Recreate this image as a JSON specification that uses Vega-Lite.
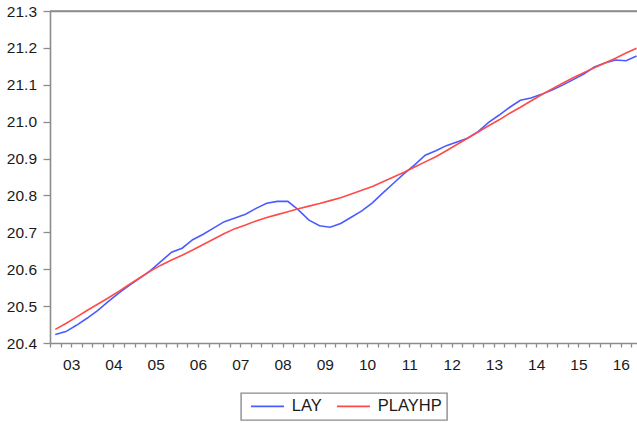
{
  "$schema": "https://vega.github.io/schema/vega-lite/v6.json",
  "width": 587,
  "height": 332,
  "autosize": {"type": "none"},
  "padding": {"left": 50, "top": 11, "right": 0, "bottom": 80},
  "background": "white",
  "config": {
    "view": {"stroke": null},
    "font": "Liberation Sans",
    "axis": {
      "labelFont": "Liberation Sans",
      "labelFontSize": 15.5,
      "labelColor": "#1a1a1a",
      "domainColor": "#8c8c8c",
      "domainWidth": 1.6,
      "tickColor": "#8c8c8c",
      "tickWidth": 1.3,
      "grid": false,
      "title": null
    },
    "legend": {
      "strokeWidth": 1.4
    }
  },
  "resolve": {"scale": {"x": "independent", "y": "independent"}, "axis": {"x": "independent", "y": "independent"}},
  "layer": [
    {
      "data": {
        "values": [
          {"t": 2003.125, "LAY": 20.423, "PLAYHP": 20.437},
          {"t": 2003.375, "LAY": 20.431, "PLAYHP": 20.453},
          {"t": 2003.625, "LAY": 20.448, "PLAYHP": 20.470},
          {"t": 2003.875, "LAY": 20.467, "PLAYHP": 20.488},
          {"t": 2004.125, "LAY": 20.488, "PLAYHP": 20.505},
          {"t": 2004.375, "LAY": 20.512, "PLAYHP": 20.522},
          {"t": 2004.625, "LAY": 20.535, "PLAYHP": 20.540},
          {"t": 2004.875, "LAY": 20.556, "PLAYHP": 20.559},
          {"t": 2005.125, "LAY": 20.576, "PLAYHP": 20.577},
          {"t": 2005.375, "LAY": 20.596, "PLAYHP": 20.595},
          {"t": 2005.625, "LAY": 20.621, "PLAYHP": 20.611},
          {"t": 2005.875, "LAY": 20.646, "PLAYHP": 20.625},
          {"t": 2006.125, "LAY": 20.657, "PLAYHP": 20.638},
          {"t": 2006.375, "LAY": 20.680, "PLAYHP": 20.652},
          {"t": 2006.625, "LAY": 20.695, "PLAYHP": 20.667},
          {"t": 2006.875, "LAY": 20.712, "PLAYHP": 20.682},
          {"t": 2007.125, "LAY": 20.729, "PLAYHP": 20.697},
          {"t": 2007.375, "LAY": 20.739, "PLAYHP": 20.710},
          {"t": 2007.625, "LAY": 20.749, "PLAYHP": 20.720},
          {"t": 2007.875, "LAY": 20.765, "PLAYHP": 20.731},
          {"t": 2008.125, "LAY": 20.779, "PLAYHP": 20.740},
          {"t": 2008.375, "LAY": 20.784, "PLAYHP": 20.748},
          {"t": 2008.625, "LAY": 20.784, "PLAYHP": 20.756},
          {"t": 2008.875, "LAY": 20.761, "PLAYHP": 20.764},
          {"t": 2009.125, "LAY": 20.733, "PLAYHP": 20.771},
          {"t": 2009.375, "LAY": 20.718, "PLAYHP": 20.778},
          {"t": 2009.625, "LAY": 20.714, "PLAYHP": 20.786},
          {"t": 2009.875, "LAY": 20.724, "PLAYHP": 20.794},
          {"t": 2010.125, "LAY": 20.741, "PLAYHP": 20.804},
          {"t": 2010.375, "LAY": 20.758, "PLAYHP": 20.814},
          {"t": 2010.625, "LAY": 20.780, "PLAYHP": 20.824},
          {"t": 2010.875, "LAY": 20.807, "PLAYHP": 20.837},
          {"t": 2011.125, "LAY": 20.833, "PLAYHP": 20.850},
          {"t": 2011.375, "LAY": 20.859, "PLAYHP": 20.863},
          {"t": 2011.625, "LAY": 20.883, "PLAYHP": 20.877},
          {"t": 2011.875, "LAY": 20.909, "PLAYHP": 20.891},
          {"t": 2012.125, "LAY": 20.921, "PLAYHP": 20.905},
          {"t": 2012.375, "LAY": 20.935, "PLAYHP": 20.921},
          {"t": 2012.625, "LAY": 20.945, "PLAYHP": 20.938},
          {"t": 2012.875, "LAY": 20.955, "PLAYHP": 20.955},
          {"t": 2013.125, "LAY": 20.973, "PLAYHP": 20.972},
          {"t": 2013.375, "LAY": 20.998, "PLAYHP": 20.989},
          {"t": 2013.625, "LAY": 21.018, "PLAYHP": 21.005},
          {"t": 2013.875, "LAY": 21.039, "PLAYHP": 21.023},
          {"t": 2014.125, "LAY": 21.058, "PLAYHP": 21.039},
          {"t": 2014.375, "LAY": 21.064, "PLAYHP": 21.056},
          {"t": 2014.625, "LAY": 21.074, "PLAYHP": 21.073},
          {"t": 2014.875, "LAY": 21.086, "PLAYHP": 21.089},
          {"t": 2015.125, "LAY": 21.099, "PLAYHP": 21.104},
          {"t": 2015.375, "LAY": 21.114, "PLAYHP": 21.119},
          {"t": 2015.625, "LAY": 21.129, "PLAYHP": 21.133},
          {"t": 2015.875, "LAY": 21.148, "PLAYHP": 21.146},
          {"t": 2016.125, "LAY": 21.159, "PLAYHP": 21.159},
          {"t": 2016.375, "LAY": 21.167, "PLAYHP": 21.172},
          {"t": 2016.625, "LAY": 21.165, "PLAYHP": 21.186},
          {"t": 2016.875, "LAY": 21.178, "PLAYHP": 21.199}
        ]
      },
      "transform": [{"fold": ["LAY", "PLAYHP"], "as": ["series", "value"]}],
      "mark": {"type": "line", "strokeWidth": 1.6, "clip": true},
      "encoding": {
        "x": {
          "field": "t",
          "type": "quantitative",
          "scale": {"domain": [2003, 2016.884], "nice": false, "zero": false},
          "axis": {
            "values": [2003, 2003.25, 2003.5, 2003.75, 2004, 2004.25, 2004.5, 2004.75, 2005, 2005.25, 2005.5, 2005.75, 2006, 2006.25, 2006.5, 2006.75, 2007, 2007.25, 2007.5, 2007.75, 2008, 2008.25, 2008.5, 2008.75, 2009, 2009.25, 2009.5, 2009.75, 2010, 2010.25, 2010.5, 2010.75, 2011, 2011.25, 2011.5, 2011.75, 2012, 2012.25, 2012.5, 2012.75, 2013, 2013.25, 2013.5, 2013.75, 2014, 2014.25, 2014.5, 2014.75, 2015, 2015.25, 2015.5, 2015.75, 2016, 2016.25, 2016.5, 2016.75],
            "labelExpr": "datum.value % 1 == 0.5 ? slice(toString(floor(datum.value)), 2) : ''",
            "labelFlush": false,
            "labelOverlap": false,
            "tickSize": 4,
            "labelPadding": 10,
            "title": null,
            "encode": {"ticks": {"update": {"y2": {"signal": "datum.value % 1 == 0 ? 8.5 : 4"}}}}
          }
        },
        "y": {
          "field": "value",
          "type": "quantitative",
          "scale": {"domain": [20.4, 21.3], "nice": false, "zero": false},
          "axis": {
            "values": [20.4, 20.5, 20.6, 20.7, 20.8, 20.9, 21.0, 21.1, 21.2, 21.3],
            "format": ".1f",
            "tickSize": 7,
            "labelPadding": 6.5,
            "labelOverlap": false,
            "labelFlush": false,
            "title": null
          }
        },
        "color": {
          "field": "series",
          "type": "nominal",
          "scale": {"domain": ["LAY", "PLAYHP"], "range": ["#4a5cff", "#ff4a4a"]},
          "legend": {
            "title": null,
            "orient": "none",
            "legendX": 191,
            "legendY": 382,
            "direction": "horizontal",
            "symbolType": "M-3,0H3",
            "symbolSize": 121,
            "symbolStrokeWidth": 1.6,
            "symbolOffset": 13.25,
            "labelOffset": 16,
            "labelFont": "Liberation Sans",
            "labelFontSize": 16.5,
            "labelColor": "#1a1a1a",
            "columnPadding": 10,
            "padding": 5,
            "strokeColor": "#8c8c8c"
          }
        }
      }
    },
    {
      "data": {"values": [{"top": 21.3, "from": 2003, "to": 2016.884}]},
      "mark": {"type": "rule", "color": "#8c8c8c", "strokeWidth": 1.6},
      "encoding": {
        "y": {"field": "top", "type": "quantitative", "scale": {"domain": [20.4, 21.3], "nice": false, "zero": false}, "axis": null},
        "x": {
          "field": "from",
          "type": "quantitative",
          "scale": {"domain": [2003, 2016.884], "nice": false, "zero": false},
          "axis": {"orient": "top", "labels": false, "ticks": false, "domain": true, "title": null}
        },
        "x2": {"field": "to"}
      }
    }
  ]
}
